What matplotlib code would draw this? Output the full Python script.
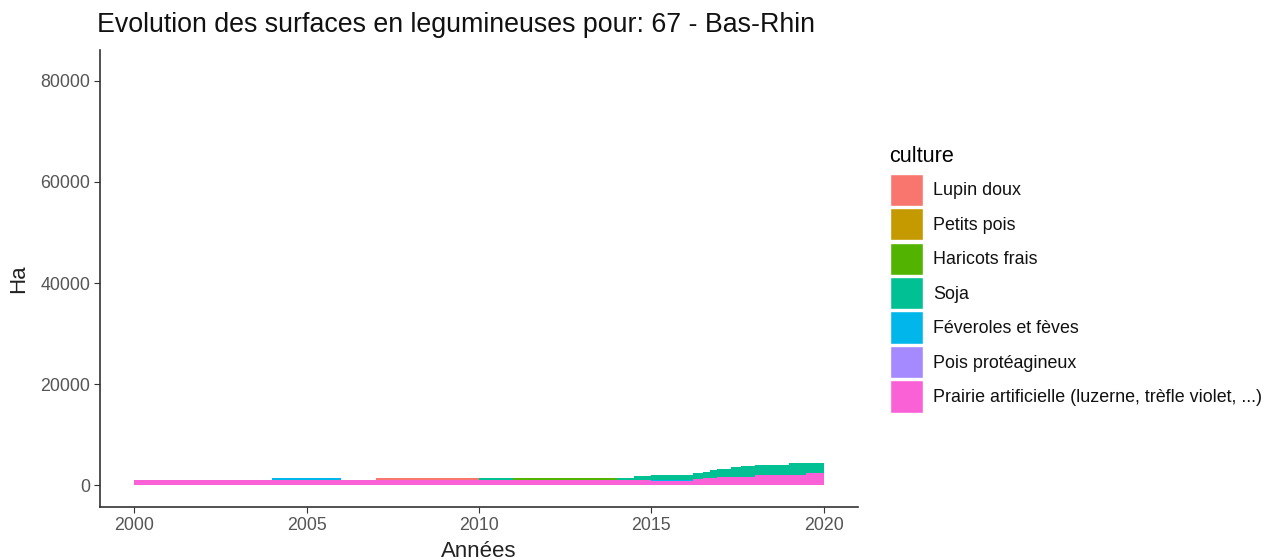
import matplotlib
matplotlib.use("Agg")
import matplotlib.pyplot as plt
from matplotlib.patches import Patch
import numpy as np

plt.rcParams['font.family'] = ['Liberation Sans', 'DejaVu Sans']

# x breakpoints (years)
years = [2000, 2004, 2006, 2007, 2010, 2011, 2014, 2014.5, 2015, 2016.2,
         2016.5, 2016.7, 2016.9, 2017.3, 2017.6, 2018, 2019, 2019.5, 2020]

cultures = ["Lupin doux", "Petits pois", "Haricots frais", "Soja",
            "Féveroles et fèves", "Pois protéagineux",
            "Prairie artificielle (luzerne, trèfle violet, ...)"]
colors = ["#F8766D", "#C49A00", "#53B400", "#00C094", "#00B6EB", "#A58AFF", "#FB61D7"]

lupin = [0, 0, 0, 330, 0, 0, 0, 0, 0, 0, 0, 0, 0, 0, 0, 0, 0, 0, 0]
petits_pois = [0] * 19
haricots = [0, 0, 0, 0, 0, 330, 0, 0, 0, 0, 0, 0, 0, 0, 0, 0, 0, 0, 0]
soja = [0, 0, 0, 0, 330, 0, 400, 730, 960, 1180, 1200, 1520, 1520, 1850, 2100, 2100, 2430, 1940, 1940]
feveroles = [0, 280, 0, 0, 0, 0, 0, 0, 150, 0, 0, 0, 0, 0, 0, 0, 0, 0, 0]
pois = [0, 0, 0, 0, 0, 0, 0, 0, 0, 0, 0, 0, 0, 0, 0, 0, 0, 100, 100]
prairie = [1100, 1100, 1100, 1100, 1100, 1100, 1100, 1100, 920, 1180, 1500, 1500, 1700, 1700, 1700, 1970, 1970, 2360, 2360]

series = [lupin, petits_pois, haricots, soja, feveroles, pois, prairie]

fig = plt.figure(figsize=(12.7, 5.6), dpi=100)
ax = fig.add_axes([100/1270, 1 - 507/560, 758/1270, 457/560])

x = np.array(years)
base = np.zeros(len(years))
# stack from bottom: last culture at bottom
for vals, col in zip(series[::-1], colors[::-1]):
    v = np.array(vals, dtype=float)
    ax.fill_between(x, base, base + v, step='post', color=col, linewidth=0)
    base = base + v

ax.set_xlim(1999, 2021)
ax.set_ylim(-4300, 86100)
ax.set_xticks([2000, 2005, 2010, 2015, 2020])
ax.set_yticks([0, 20000, 40000, 60000, 80000])
for s in ['top', 'right']:
    ax.spines[s].set_visible(False)
for s in ['left', 'bottom']:
    ax.spines[s].set_color('#333333')
    ax.spines[s].set_linewidth(1.2)
ax.tick_params(colors='#333333', labelcolor='#555555', labelsize=12.8, length=4.5, pad=2.5)
ax.set_xlabel("Années", fontsize=16, color='#222222', labelpad=5)
ax.set_ylabel("Ha", fontsize=16, color='#222222', labelpad=8)
fig.text(97/1270, 1 - 25/560, "Evolution des surfaces en legumineuses pour: 67 - Bas-Rhin",
         fontsize=19.3, va='center', ha='left', color='#111111')

handles = [Patch(facecolor=c, edgecolor='white', linewidth=1) for c in colors]
leg = fig.legend(handles, cultures, loc='upper left', bbox_to_anchor=(886/1270, 1 - 142/560),
                 frameon=False, title="culture", fontsize=12.9, title_fontsize=15.6,
                 handlelength=1.85, handleheight=2.4, labelspacing=0.12, handletextpad=0.6,
                 alignment='left', borderaxespad=0, borderpad=0.2)
leg._legend_box.sep = 5
for t in leg.get_texts():
    t.set_color('#111111')

fig.savefig("out.png", dpi=100)
